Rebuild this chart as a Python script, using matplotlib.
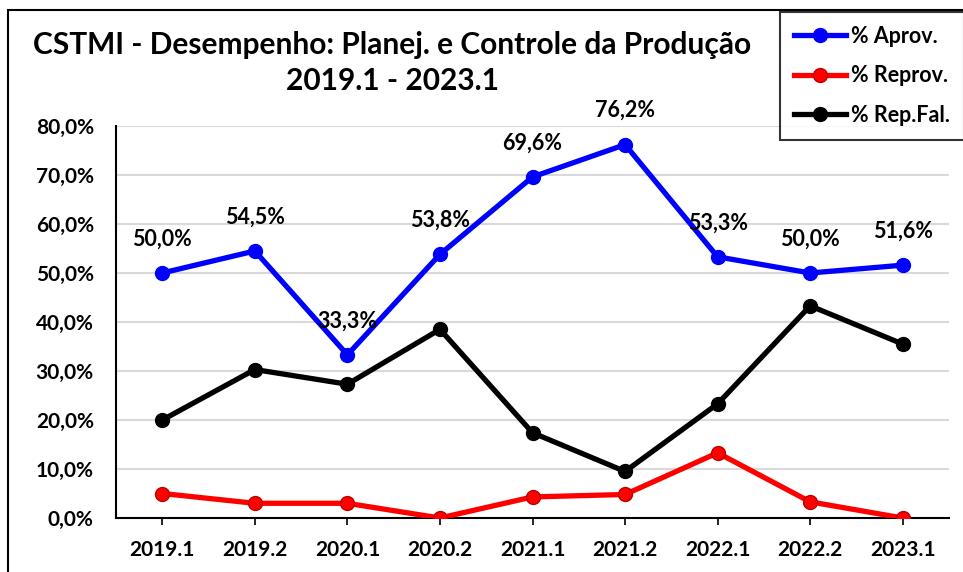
import matplotlib
matplotlib.use('Agg')
import matplotlib.pyplot as plt
from matplotlib.patches import Rectangle

periodos = ['2019.1', '2019.2', '2020.1', '2020.2', '2021.1', '2021.2', '2022.1', '2022.2', '2023.1']
aprov = [50.0, 54.5, 33.3, 53.8, 69.6, 76.2, 53.3, 50.0, 51.6]
reprov = [5.0, 3.0, 3.0, 0.0, 4.3, 4.8, 13.3, 3.3, 0.0]
rep_fal = [20.0, 30.3, 27.3, 38.5, 17.4, 9.5, 23.3, 43.3, 35.5]

plt.rcParams['font.family'] = ['Lato', 'DejaVu Sans']

fig = plt.figure(figsize=(9.63, 5.72), dpi=100)
ax = fig.add_axes([116/963, 1 - 518/572, (949 - 116)/963, (518 - 126)/572])

x = list(range(len(periodos)))
ax.plot(x, aprov, '-o', color='#0000ff', lw=3.8, ms=10, label='% Aprov.', zorder=4)
ax.plot(x, reprov, '-o', color='#ff0000', lw=3.8, ms=10, mec='#c00000', mew=1, label='% Reprov.', zorder=3)
ax.plot(x, rep_fal, '-o', color='black', lw=3.8, ms=10, label='% Rep.Fal.', zorder=3)

for xi, v in zip(x, aprov):
    ax.annotate(f'{v:.1f}%'.replace('.', ','), (xi, v), xytext=(0, 17), textcoords='offset points',
                ha='center', va='bottom', fontsize=15.5, fontweight='bold', zorder=5)

ax.set_xlim(-0.5, len(periodos) - 0.5)
ax.set_ylim(0, 80)
ax.set_yticks(range(0, 81, 10))
ax.set_yticklabels([f'{v},0%' for v in range(0, 81, 10)])
ax.set_xticks(x)
ax.set_xticklabels(periodos)
ax.tick_params(axis='y', length=0, pad=16, labelsize=15)
ax.tick_params(axis='x', length=5, width=1.2, pad=11, labelsize=15)
for lab in ax.get_xticklabels() + ax.get_yticklabels():
    lab.set_fontweight('bold')
ax.grid(axis='y', color='#d9d9d9', lw=1.5)
ax.set_axisbelow(True)
for s in ['top', 'right']:
    ax.spines[s].set_visible(False)
for s in ['left', 'bottom']:
    ax.spines[s].set_linewidth(1.5)

fig.text(392/963, 1 - 45/572, 'CSTMI - Desempenho: Planej. e Controle da Produção',
         ha='center', va='center', fontsize=21.5, fontweight='bold')
fig.text(392/963, 1 - 81/572, '2019.1 - 2023.1', ha='center', va='center', fontsize=21.5, fontweight='bold')

leg = fig.legend(loc='upper left', bbox_to_anchor=(780/963, 1 - 12/572), frameon=True, fancybox=False,
                 edgecolor='black', fontsize=15.5, handlelength=2.4, borderpad=0.65, labelspacing=0.85,
                 handletextpad=0.25, borderaxespad=0)
leg.get_frame().set_linewidth(1.5)
for t in leg.get_texts():
    t.set_fontweight('bold')

fig.patches.append(Rectangle((8/963, -0.1), 1.1, 1 - 10/572 + 0.1, transform=fig.transFigure,
                             fill=False, edgecolor='black', lw=1.5))

fig.savefig('out.png', dpi=100)
